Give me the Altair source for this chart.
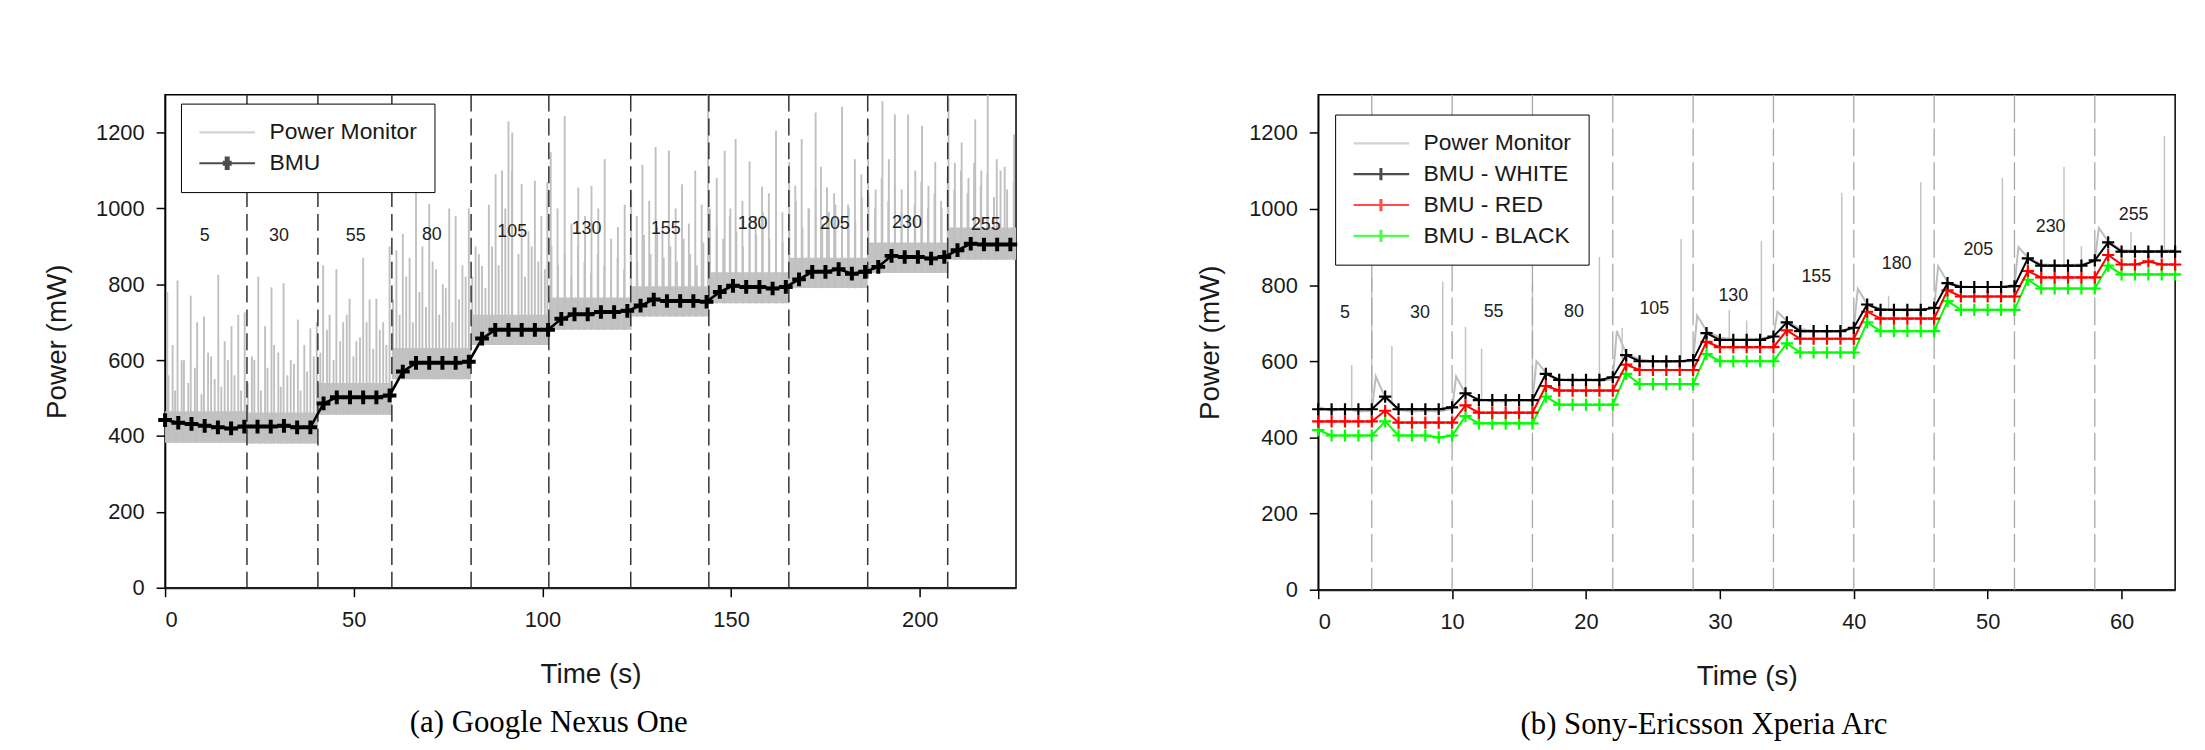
import altair as alt
import pandas as pd

# ---------------- data: (a) Google Nexus One ----------------
left_levels = ["5", "30", "55", "80", "105", "130", "155", "180", "205", "230", "255"]
left_bounds = [21.7, 40.5, 60.1, 81.1, 101.7, 123.4, 144.1, 165.3, 186.2, 207.4]
left_seg_start = [0, 21.7, 40.5, 60.1, 81.1, 101.7, 123.4, 144.1, 165.3, 186.2, 207.4]
left_seg_end = [21.7, 40.5, 60.1, 81.1, 101.7, 123.4, 144.1, 165.3, 186.2, 207.4, 225.5]
left_band_lo = [382, 380, 456, 550, 640, 680, 715, 750, 790, 830, 865]
left_band_hi = [465, 462, 540, 632, 720, 765, 795, 832, 870, 910, 950]
left_label_t = [10.5, 30.2, 50.5, 70.7, 92.0, 111.7, 132.7, 155.7, 177.5, 196.6, 217.5]
left_label_v = [928, 928, 928, 930, 937, 945, 947, 960, 960, 962, 955]

left_spike_t = [0.6, 2.0, 3.3, 5.0, 6.8, 8.5, 10.3, 12.2, 14.1, 15.8, 17.6, 19.4, 21.1, 23.0,
                24.7, 26.5, 28.2, 30.0, 31.4, 33.3, 35.2, 36.9, 38.5, 40.2, 41.9, 43.6,
                45.4, 47.2, 48.9, 50.7, 52.5, 54.2, 56.0, 57.8, 59.5, 61.3, 63.0, 64.8,
                66.5, 68.2, 70.0, 71.8, 73.6, 75.3, 77.0, 78.8, 80.5, 82.3, 84.0, 85.8,
                87.6, 89.3, 91.0, 92.0, 94.5, 96.3, 98.0, 99.7, 101.3, 102.2, 104.0,
                105.9, 107.7, 109.5, 111.3, 113.0, 114.8, 116.5, 118.2, 120.0, 121.8,
                123.5, 125.0, 126.5, 128.3, 130.0, 131.8, 133.5, 135.3, 137.0, 138.8,
                140.5, 142.2, 143.9, 146.2, 148.3, 149.8, 151.2, 153.0, 154.9, 156.5,
                158.2, 160.0, 161.9, 163.6, 165.4, 167.0, 168.7, 170.5, 172.4, 173.8,
                175.4, 177.3, 179.4, 181.0, 182.8, 184.5, 186.3, 188.3, 190.1, 191.8,
                193.4, 195.2, 196.9, 198.8, 200.6, 202.3, 204.1, 205.8, 207.6, 209.3,
                211.1, 212.9, 214.7, 216.3, 218.0, 220.4, 222.5, 225.0]
left_spike_v = [780, 640, 810, 600, 770, 700, 715, 610, 825, 650, 690, 720, 726, 610,
                820, 690, 792, 620, 803, 600, 707, 640, 684, 700, 850, 720,
                840, 700, 762, 650, 870, 760, 762, 700, 900, 890, 933, 870,
                1060, 900, 1012, 840, 800, 1000, 980, 850, 1000, 900, 848, 1010,
                1090, 1100, 1230, 1200, 1064, 940, 1073, 980, 1069, 1148, 1000,
                1244, 960, 1055, 980, 1059, 1000, 1130, 920, 951, 1010,
                1050, 980, 1115, 1020, 1162, 950, 1153, 1000, 1064, 960,
                1100, 1010, 1300, 1080, 1152, 1000, 1183, 1020, 1124, 980,
                1058, 1040, 1205, 990, 1122, 1060, 1183, 1000, 1253, 1110,
                1056, 1040, 1268, 1010, 1130, 1090, 1235, 1050, 1283, 1130,
                1248, 1050, 1248, 1100, 1218, 1060, 1122, 1000, 1292, 1120,
                1174, 1080, 1235, 1100, 1300, 1130, 1110, 1195]

# smaller ripples of the power trace, sampled every 1.75 s from 0.9 s
left_ripple_t = [round(0.9 + 1.75 * k, 2) for k in range(129)]
left_ripple_v = [560, 520, 600, 540, 580, 510, 620, 550, 530, 600, 560, 520,
                 540, 600, 520, 580, 640, 530, 560, 590, 520, 570, 610,
                 620, 680, 600, 650, 720, 610, 660, 700, 630, 680, 640,
                 760, 720, 820, 700, 780, 740, 860, 720, 790, 700, 760, 820,
                 820, 880, 790, 900, 850, 1000, 1100, 880, 820, 900, 860, 840,
                 900, 850, 880, 820, 900, 860, 830, 880, 850, 800, 870, 840,
                 900, 860, 930, 880, 950, 870, 900, 860, 920, 880, 850, 910,
                 1000, 950, 920, 980, 940, 900, 960, 930, 990, 920, 950, 910,
                 980, 1020, 950, 1000, 1050, 960, 990, 1010, 940, 1000, 970, 1030,
                 1040, 1000, 1080, 1020, 1060, 990, 1050, 1010, 1070, 1000, 1040, 1020,
                 1080, 1050, 1100, 1040, 1120, 1060, 1090, 1030, 1100, 1050, 1070]

left_bmu_t = [round(3.5 * i, 1) for i in range(65)]
left_bmu_v = [442, 435, 432, 427, 423, 420, 425, 425, 425, 427, 423, 423,
              486, 502, 502, 502, 502, 507,
              570, 593, 593, 593, 593, 596,
              657, 680, 680, 680, 680, 680,
              709, 721, 721, 727, 727, 730,
              744, 760, 756, 756, 756, 754,
              780, 796, 793, 793, 789, 793,
              813, 833, 833, 840, 828, 833,
              846, 875, 872, 872, 868, 872,
              890, 907, 905, 905, 905]

# ---------------- data: (b) Sony-Ericsson Xperia Arc ----------------
right_levels = left_levels
right_bounds = [4, 10, 16, 22, 28, 34, 40, 46, 52, 58]
right_label_t = [2.0, 7.6, 13.1, 19.1, 25.1, 31.0, 37.2, 43.2, 49.3, 54.7, 60.9]
right_label_v = [726, 726, 728, 728, 737, 772, 820, 856, 893, 953, 984]

pm_r_t = [0, 1, 2, 3, 4,
          4.3, 5, 6, 7, 8, 9, 10,
          10.3, 11, 12, 13, 14, 15, 16,
          16.3, 17, 18, 19, 20, 21, 22,
          22.3, 23, 24, 25, 26, 27, 28,
          28.3, 29, 30, 31, 32, 33, 34,
          34.3, 35, 36, 37, 38, 39, 40,
          40.3, 41, 42, 43, 44, 45, 46,
          46.3, 47, 48, 49, 50, 51, 52,
          52.3, 53, 54, 55, 56, 57, 58,
          58.3, 59, 60, 61, 62, 63, 64]
pm_r_v = [480, 470, 475, 468, 470,
          560, 505, 472, 468, 470, 468, 475,
          560, 515, 500, 495, 495, 498, 495,
          600, 570, 552, 548, 550, 548, 552,
          680, 620, 605, 600, 598, 600, 600,
          720, 680, 662, 658, 657, 660, 665,
          730, 705, 685, 680, 678, 680, 685,
          790, 750, 738, 735, 733, 735, 740,
          850, 808, 797, 795, 795, 796, 800,
          900, 872, 855, 852, 852, 855, 862,
          950, 915, 892, 890, 888, 890, 892]

right_spike_t = [2.5, 4.0, 5.5, 9.3, 11.0, 12.2, 16.0, 21.0, 22.7, 27.1, 30.7, 32.0,
                 33.1, 39.1, 42.6, 45.0, 51.1, 55.7, 57.0, 60.7, 63.2]
right_spike_lo = [470, 470, 490, 470, 505, 498, 500, 550, 605, 600, 660, 658,
                  660, 680, 736, 735, 797, 852, 855, 890, 890]
right_spike_hi = [590, 818, 640, 809, 690, 633, 800, 874, 688, 921, 735, 707,
                  916, 1042, 772, 1070, 1081, 1110, 902, 940, 1191]

right_t = list(range(65))
white_v = [474, 474, 474, 474, 474, 507, 474, 474, 474, 474, 479,
           516, 498, 498, 498, 498, 498, 567, 551, 551, 551, 551, 558,
           616, 600, 600, 600, 600, 603, 674, 656, 656, 656, 656, 665,
           702, 679, 679, 679, 679, 688, 749, 735, 735, 735, 735, 740,
           805, 795, 795, 795, 795, 797, 870, 851, 851, 851, 851, 865,
           912, 888, 888, 888, 888, 888]
red_v = [442, 442, 442, 442, 442, 470, 439, 439, 439, 439, 439,
         484, 465, 465, 465, 465, 465, 535, 523, 523, 523, 523, 523,
         591, 577, 577, 577, 577, 577, 651, 637, 637, 637, 637, 637,
         681, 659, 659, 659, 659, 659, 730, 712, 712, 712, 712, 712,
         786, 770, 770, 770, 770, 770, 837, 820, 820, 820, 820, 820,
         879, 854, 854, 862, 854, 854]
green_v = [419, 405, 405, 405, 405, 442, 405, 405, 405, 400, 405,
           456, 437, 437, 437, 437, 437, 507, 486, 486, 486, 486, 486,
           567, 540, 540, 540, 540, 540, 619, 600, 600, 600, 600, 600,
           647, 623, 623, 623, 623, 623, 702, 679, 679, 679, 679, 679,
           758, 735, 735, 735, 735, 735, 814, 791, 791, 791, 791, 791,
           851, 828, 828, 828, 828, 828]

# ---------------- styling helpers ----------------
FONT = "Liberation Sans"
SERIF = "Liberation Serif"
LINE_PATH = "M-1,0H1"
CROSS_THICK = ("M-1,0H1M0,-0.24V0.24M-0.05,-0.24V0.24M0.05,-0.24V0.24"
               "M-0.16,-0.05H0.16M-0.16,0.05H0.16")
CROSS_THIN = "M-1,0H1M0,-0.22V0.22M-0.03,-0.22V0.22M-0.16,0H0.16"
PLUS = "M-1,0H1M0,-1V1"


def x_scale(maxv):
    return alt.Scale(domain=[0, maxv], nice=False, zero=False)


Y_SCALE = alt.Scale(domain=[0, 1300], nice=False)


def legend_layer(names, colors, shapes, lx, ly):
    df = pd.DataFrame({"series": names, "t": [1.0] * len(names), "v": [-500.0] * len(names)})
    leg = dict(title=None, orient="none", legendX=lx, legendY=ly, fillColor="white",
               strokeColor="black", padding=17, cornerRadius=0, labelFont=FONT,
               labelFontSize=23, labelColor="#1a1a1a", labelOffset=13, rowPadding=7,
               symbolSize=3136, symbolStrokeWidth=2.2, clipHeight=24, labelLimit=400)
    return alt.Chart(df).mark_point(filled=False, clip=True, size=10).encode(
        x=alt.X("t:Q"), y=alt.Y("v:Q"),
        color=alt.Color("series:N", scale=alt.Scale(domain=names, range=colors),
                        legend=alt.Legend(**leg)),
        shape=alt.Shape("series:N", scale=alt.Scale(domain=names, range=shapes),
                        legend=alt.Legend(**leg)),
    )


def axes(xmax, xvals):
    ax_x = alt.X("t:Q", scale=x_scale(xmax),
                 axis=alt.Axis(values=xvals, title="Time (s)", labelPadding=13, titlePadding=30,
                               domainColor="#222", domainWidth=2.2, format="d"))
    ax_y = alt.Y("v:Q", scale=Y_SCALE,
                 axis=alt.Axis(values=[0, 200, 400, 600, 800, 1000, 1200], title="Power (mW)",
                               labelPadding=12, titlePadding=24, format="d"))
    return ax_x, ax_y


# ---------------- left panel ----------------
LX = 225.5
lx_enc, ly_enc = axes(LX, [0, 50, 100, 150, 200])

band_rows = []
for s, e, lo, hi in zip(left_seg_start, left_seg_end, left_band_lo, left_band_hi):
    band_rows.append({"t": s, "lo": lo, "hi": hi})
    band_rows.append({"t": e, "lo": lo, "hi": hi})
band_df = pd.DataFrame(band_rows)


def seg_lo(t):
    for s, e, lo in zip(left_seg_start, left_seg_end, left_band_lo):
        if s <= t <= e:
            return lo
    return left_band_lo[-1]


lspk_df = pd.DataFrame({"t": left_spike_t + left_ripple_t, "v": left_spike_v + left_ripple_v})
lspk_df["lo"] = [seg_lo(t) for t in lspk_df["t"]]
lbmu_df = pd.DataFrame({"t": left_bmu_t, "v": left_bmu_v})
lbound_df = pd.DataFrame({"t": left_bounds})
llab_df = pd.DataFrame({"t": left_label_t, "v": left_label_v, "lab": left_levels})

l_band = alt.Chart(band_df).mark_area(color="#c3c3c3", opacity=1).encode(
    x=lx_enc, y=alt.Y("lo:Q", scale=Y_SCALE), y2="hi:Q")
l_spk = alt.Chart(lspk_df).mark_rule(color="#c0c0c0", strokeWidth=1.9).encode(
    x="t:Q", y="lo:Q", y2="v:Q")
l_bound = alt.Chart(lbound_df).mark_rule(color="#333333", strokeWidth=1.5,
                                         strokeDash=[17, 7]).encode(x="t:Q")
l_line = alt.Chart(lbmu_df).mark_line(color="black", strokeWidth=2.6).encode(x="t:Q", y=ly_enc)
l_pts = alt.Chart(lbmu_df).mark_point(shape=PLUS, filled=False, color="black", size=190,
                                      strokeWidth=4, opacity=1).encode(x="t:Q", y="v:Q")
l_lab = alt.Chart(llab_df).mark_text(font=FONT, fontSize=18, color="#222").encode(
    x="t:Q", y="v:Q", text="lab:N")
l_leg = legend_layer(["Power Monitor", "BMU"], ["#c0c0c0", "#000000"],
                     [LINE_PATH, CROSS_THICK], 16, 9)

left = alt.layer(l_band, l_spk, l_bound, l_line, l_pts, l_lab, l_leg).properties(
    width=856, height=496,
    title=alt.TitleParams(text="(a) Google Nexus One", orient="bottom", anchor="middle",
                          frame="group", font=SERIF, fontSize=31, fontWeight="normal",
                          color="black", offset=20, dx=-42))

# ---------------- right panel ----------------
RX = 64
rx_enc, ry_enc = axes(RX, [0, 10, 20, 30, 40, 50, 60])

pm_df = pd.DataFrame({"t": pm_r_t, "v": pm_r_v})
rspk_df = pd.DataFrame({"t": right_spike_t, "lo": right_spike_lo, "hi": right_spike_hi})
rbound_df = pd.DataFrame({"t": right_bounds})
rlab_df = pd.DataFrame({"t": right_label_t, "v": right_label_v, "lab": right_levels})

r_pm = alt.Chart(pm_df).mark_line(color="#bdbdbd", strokeWidth=2).encode(x=rx_enc, y=ry_enc)
r_spk = alt.Chart(rspk_df).mark_rule(color="#c4c4c4", strokeWidth=1.5).encode(
    x="t:Q", y="lo:Q", y2="hi:Q")
r_bound = alt.Chart(rbound_df).mark_rule(color="#a8a8a8", strokeWidth=1.3,
                                         strokeDash=[28, 6]).encode(x="t:Q")
r_layers = [r_pm, r_spk, r_bound]
for vals, col in [(green_v, "#00ff00"), (red_v, "#ff0000"), (white_v, "#000000")]:
    df = pd.DataFrame({"t": right_t, "v": vals})
    r_layers.append(alt.Chart(df).mark_line(color=col, strokeWidth=2).encode(x="t:Q", y="v:Q"))
    r_layers.append(alt.Chart(df).mark_point(shape=PLUS, filled=False, color=col, size=150,
                                             strokeWidth=2.2, opacity=1).encode(x="t:Q", y="v:Q"))
r_lab = alt.Chart(rlab_df).mark_text(font=FONT, fontSize=18, color="#222").encode(
    x="t:Q", y="v:Q", text="lab:N")
r_leg = legend_layer(["Power Monitor", "BMU - WHITE", "BMU - RED", "BMU - BLACK"],
                     ["#c0c0c0", "#000000", "#ff0000", "#00ff00"],
                     [LINE_PATH, CROSS_THIN, CROSS_THIN, CROSS_THIN], 17, 20)
r_layers += [r_lab, r_leg]

right = alt.layer(*r_layers).properties(
    width=862, height=498,
    title=alt.TitleParams(text="(b) Sony-Ericsson Xperia Arc", orient="bottom", anchor="middle",
                          frame="group", font=SERIF, fontSize=31, fontWeight="normal",
                          color="black", offset=20, dx=-43))

chart = alt.hconcat(left, right, spacing=171).resolve_scale(
    color="independent", shape="independent", x="independent", y="independent"
).resolve_legend(color="independent", shape="independent").properties(
    padding={"left": 35, "top": 83, "right": 10, "bottom": 0}
).configure(background="white").configure_view(
    stroke="black", strokeWidth=1.5
).configure_axis(
    labelFont=FONT, labelFontSize=22, labelColor="#1a1a1a",
    titleFont=FONT, titleFontSize=28, titleFontWeight="normal", titleColor="#1a1a1a",
    tickColor="black", tickSize=9, tickWidth=1.5, domainColor="black", domainWidth=1.5,
    grid=False
)

chart.save("out.html", embed_options={"renderer": "svg", "actions": False})
